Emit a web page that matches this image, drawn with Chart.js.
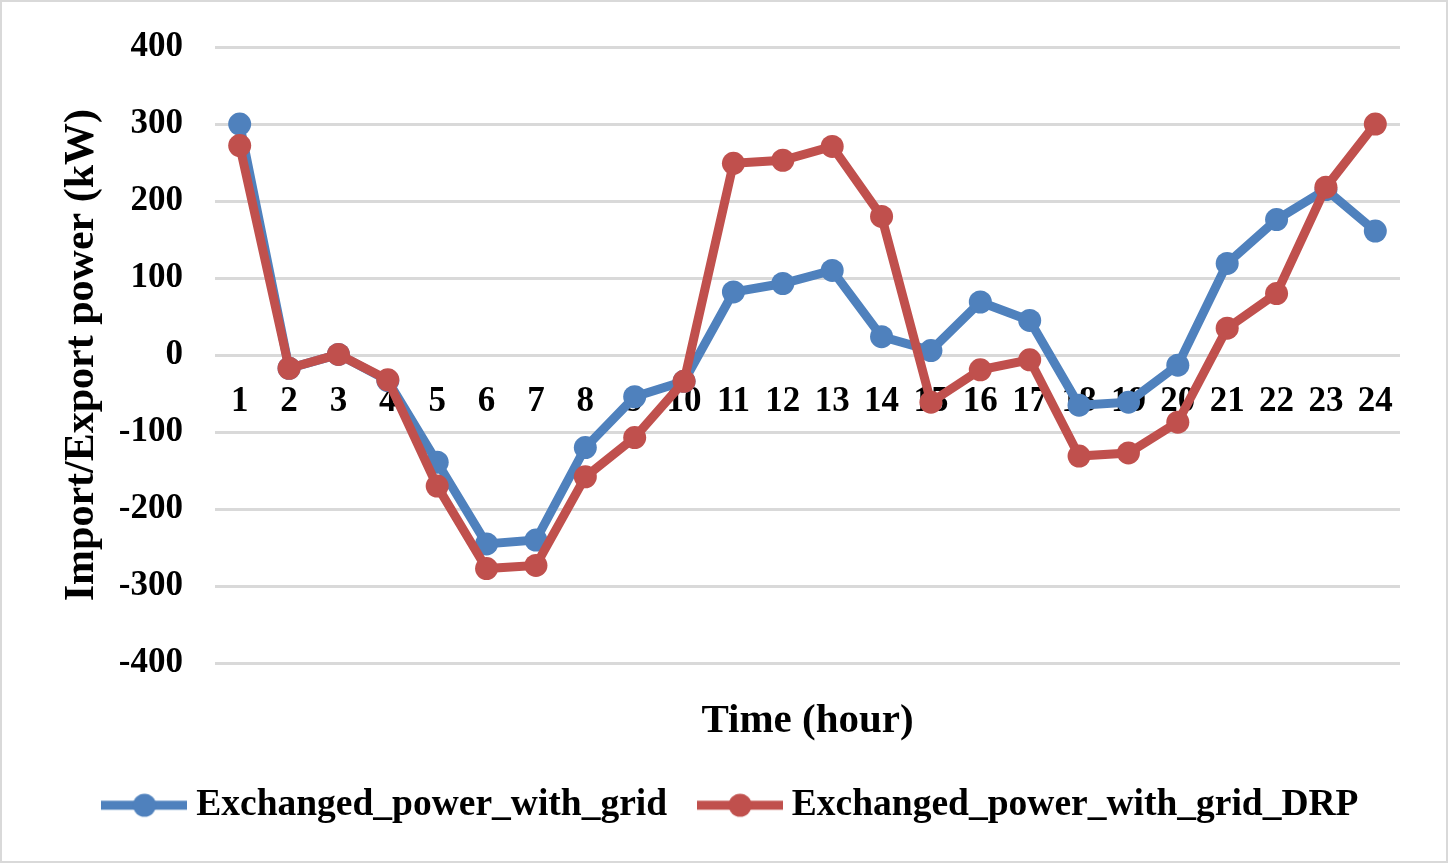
<!doctype html>
<html>

<head>
  <title>Exchanged power with grid</title>
  <script src="https://cdn.jsdelivr.net/npm/chart.js@4.4.0/dist/chart.umd.min.js"></script>
  <style>
    html, body {
      margin: 0;
      padding: 0;
      background: #fff;
    }
    .chart {
      position: relative;
      width: 1448px;
      height: 863px;
      border: 2px solid #d9d9d9;
      box-sizing: border-box;
    }
  </style>
</head>

<body>
  <div class="chart">
    <canvas id="myChart"></canvas>
  </div>

  <script>
    var hours = ['1', '2', '3', '4', '5', '6', '7', '8', '9', '10', '11', '12',
      '13', '14', '15', '16', '17', '18', '19', '20', '21', '22', '23', '24'];
    var gridPower = [300, -17, 1, -33, -139, -245, -240, -120, -54, -34, 82, 93,
      110, 24, 6, 69, 45, -65, -61, -13, 119, 176, 215, 161];
    var gridPowerDRP = [272, -17, 1, -32, -170, -277, -273, -158, -107, -34, 249, 253,
      271, 180, -61, -19, -6, -131, -127, -87, 35, 80, 218, 300];
    var seriesNames = ['Exchanged_power_with_grid', 'Exchanged_power_with_grid_DRP'];
    var seriesColors = ['#4F81BD', '#C0504D'];

    var FONT = 'Liberation Serif, Times New Roman, serif';

    // line + marker swatch for the legend, like the spreadsheet one
    function swatch(color) {
      var c = document.createElement('canvas');
      c.width = 86;
      c.height = 26;
      var g = c.getContext('2d');
      g.strokeStyle = color;
      g.lineWidth = 9;
      g.beginPath();
      g.moveTo(0, 13);
      g.lineTo(86, 13);
      g.stroke();
      g.fillStyle = color;
      g.beginPath();
      g.arc(43, 13, 11.5, 0, Math.PI * 2);
      g.fill();
      return c;
    }

    function makeSet(i, values, order) {
      return {
        label: seriesNames[i],
        data: values,
        borderColor: seriesColors[i],
        backgroundColor: seriesColors[i],
        borderWidth: 9,
        pointRadius: 11.5,
        pointBorderWidth: 0,
        pointBackgroundColor: seriesColors[i],
        tension: 0,
        order: order
      };
    }

    var config = {
      type: 'line',
      data: {
        labels: hours,
        datasets: [makeSet(0, gridPower, 2), makeSet(1, gridPowerDRP, 1)]
      },
      options: {
        responsive: true,
        maintainAspectRatio: false,
        animation: false,
        layout: {
          padding: {left: 22, right: 0, top: 45, bottom: 27}
        },
        scales: {
          x: {
            type: 'category',
            offset: true,
            position: {y: 0},
            grid: {display: false},
            border: {display: false},
            ticks: {
              autoSkip: false,
              maxRotation: 0,
              padding: 18,
              color: '#000',
              font: {family: FONT, size: 35, weight: 'bold'}
            },
            afterFit: function(scale) { scale.height = 0; }
          },
          x2: {
            type: 'category',
            position: 'bottom',
            labels: hours,
            grid: {display: false},
            border: {display: false},
            ticks: {display: false},
            title: {
              display: true,
              text: 'Time (hour)',
              color: '#000',
              padding: {top: 26, bottom: 0},
              font: {family: FONT, size: 41, weight: 'bold'}
            }
          },
          y: {
            min: -400,
            max: 400,
            ticks: {
              stepSize: 100,
              padding: 32,
              color: '#000',
              font: {family: FONT, size: 35, weight: 'bold'}
            },
            grid: {
              color: '#d9d9d9',
              lineWidth: 3,
              drawTicks: false
            },
            border: {display: false},
            title: {
              display: true,
              text: 'Import/Export power (kW)',
              color: '#000',
              padding: {top: 33, bottom: 0},
              font: {family: FONT, size: 42, weight: 'bold'}
            },
            afterFit: function(scale) {
              scale.width = 191;
              // label overhang is already covered by the layout padding
              scale.paddingTop = 0;
              scale.paddingBottom = 0;
            }
          },
          // empty strip on the right, keeps the plot clear of the frame
          yRight: {
            axis: 'y',
            type: 'linear',
            position: 'right',
            grid: {display: false},
            border: {display: false},
            ticks: {display: false},
            afterFit: function(scale) { scale.width = 46; }
          }
        },
        plugins: {
          title: {display: false},
          tooltip: {enabled: false},
          legend: {
            display: true,
            position: 'bottom',
            labels: {
              usePointStyle: true,
              pointStyleWidth: 66,
              padding: 40,
              color: '#000',
              font: {family: FONT, size: 37.5, weight: 'bold'},
              generateLabels: function(chart) {
                return chart.data.datasets.map(function(ds, i) {
                  return {
                    text: ds.label,
                    fillStyle: seriesColors[i],
                    strokeStyle: seriesColors[i],
                    lineWidth: 0,
                    pointStyle: swatch(seriesColors[i]),
                    fontColor: '#000',
                    hidden: false,
                    datasetIndex: i
                  };
                });
              }
            }
          }
        }
      }
    };

    var ctx = document.getElementById('myChart').getContext('2d');
    window.myChart = new Chart(ctx, config);
  </script>
</body>

</html>
